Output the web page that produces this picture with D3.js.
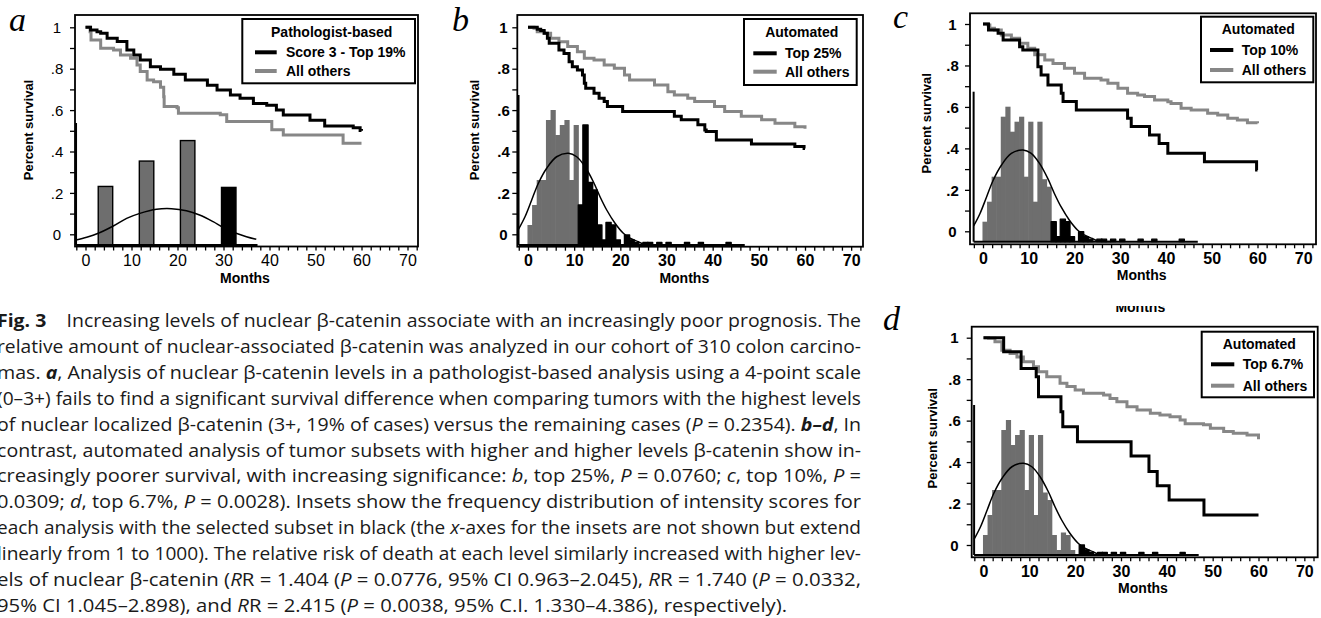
<!DOCTYPE html>
<html>
<head>
<meta charset="utf-8">
<script src="https://cdnjs.cloudflare.com/ajax/libs/d3/7.8.5/d3.min.js"></script>
<title>Fig. 3 nuclear beta-catenin survival</title>
<style>
  body { margin: 0; background: #fff; }
  svg { display: block; font-family: "Liberation Sans", Arial, sans-serif; }
  .cap { font-family: "Open Sans", sans-serif; font-size: 18px; fill: #1a1a1a; white-space: pre; }
</style>
</head>
<body>
<script>
// ---- survival curves [month, fraction surviving] ----
const aTop19 = [[0,1],[1.1,0.987],[2.5,0.979],[3.3,0.971],[4.7,0.947],[6.9,0.931],[9.0,0.890],[10.5,0.866],[11.9,0.842],[14.1,0.810],[16.3,0.797],[19.2,0.773],[21.7,0.745],[26.5,0.72],[28.6,0.697],[31.5,0.673],[33.6,0.657],[36.5,0.632],[39.4,0.624],[41.5,0.60],[43.0,0.576],[48.8,0.551],[52.0,0.523],[58.2,0.515],[59.7,0.502],[60,0.50]];
const aOthers = [[0,1],[1.0,0.979],[1.2,0.939],[3.3,0.899],[6.1,0.89],[7.6,0.866],[9.8,0.850],[11.2,0.818],[11.9,0.786],[13.4,0.745],[14.8,0.737],[16.3,0.710],[17.0,0.665],[17.1,0.617],[19.9,0.611],[20.2,0.585],[29.3,0.577],[30.7,0.545],[40.5,0.505],[43.0,0.480],[56.0,0.440],[60,0.44]];

const bTop25 = [[0,1],[2.0,0.990],[2.75,0.984],[3.5,0.971],[4.2,0.947],[4.6,0.923],[6.7,0.890],[7.8,0.874],[8.9,0.834],[9.6,0.810],[10.7,0.794],[11.8,0.770],[12.2,0.730],[12.5,0.705],[14.3,0.681],[15.4,0.657],[16.5,0.641],[17.2,0.617],[20.5,0.593],[31.7,0.570],[33.2,0.553],[36.8,0.529],[38.3,0.504],[38.6,0.497],[40.8,0.456],[48.4,0.436],[57.8,0.424],[59.8,0.415],[60,0.415]];
const bOthers = [[0,1],[1.3,0.995],[2.0,0.979],[3.5,0.971],[4.9,0.947],[6.7,0.930],[8.6,0.907],[10.7,0.882],[12.2,0.850],[14.3,0.842],[16.5,0.818],[18.7,0.802],[20.9,0.770],[22.0,0.745],[27.4,0.721],[30.3,0.689],[31.7,0.673],[34.6,0.657],[36.1,0.641],[40.4,0.617],[42.6,0.593],[46.2,0.570],[50.6,0.553],[53.5,0.536],[57.8,0.520],[60,0.510]];

const cTop10 = [[0,1],[1.2,0.971],[3.3,0.955],[4.4,0.923],[8.0,0.890],[8.7,0.874],[12.0,0.794],[12.7,0.754],[14.2,0.706],[17.1,0.666],[17.5,0.626],[20.4,0.585],[31.6,0.545],[32.4,0.505],[36.4,0.465],[38.5,0.424],[40.4,0.376],[48.4,0.336],[59.8,0.296],[60,0.296]];
const cOthers = [[0,1],[1.1,0.995],[1.5,0.979],[2.5,0.971],[4.0,0.947],[6.2,0.931],[8.0,0.907],[9.8,0.883],[11.3,0.852],[13.5,0.826],[15.3,0.810],[17.8,0.786],[20.0,0.762],[22.2,0.738],[25.8,0.730],[27.3,0.714],[29.5,0.690],[31.6,0.666],[33.8,0.658],[35.3,0.650],[37.5,0.633],[40.4,0.625],[41.1,0.617],[43.3,0.593],[45.5,0.585],[49.1,0.569],[51.3,0.561],[53.5,0.545],[55.6,0.537],[57.8,0.524],[60,0.521]];

const dTop67 = [[0,1],[4.4,0.932],[8.2,0.852],[11.5,0.812],[12.0,0.715],[16.9,0.643],[17.3,0.571],[20.5,0.498],[32.2,0.429],[36.1,0.354],[37.9,0.286],[40.5,0.217],[48.1,0.145],[60,0.145]];
const dOthers = [[0,1],[1.1,0.997],[2.5,0.981],[4.0,0.940],[5.8,0.924],[7.3,0.907],[8.7,0.884],[10.9,0.860],[12.0,0.836],[13.8,0.812],[16.7,0.780],[18.2,0.764],[20.0,0.748],[21.8,0.732],[26.2,0.723],[27.6,0.707],[29.1,0.691],[31.3,0.667],[33.5,0.651],[36.4,0.635],[38.5,0.627],[40.7,0.619],[42.9,0.603],[44.0,0.585],[48.0,0.580],[49.5,0.563],[52.4,0.547],[54.5,0.539],[57.5,0.531],[60,0.510]];

// ---- inset a: pathologist score histogram ----
const pathScores = [0, 1, 2, 3];
const pathCounts = [60, 86, 107, 59];
const pathFit = [[-0.716,5.1],[-0.456,7.9],[-0.175,12],[0.19,19.5],[0.515,27.3],[0.837,32.4],[1.243,36.6],[1.607,37.2],[1.97,35.1],[2.29,30.7],[2.62,23.9],[2.86,18.1],[3.18,12],[3.43,8.5],[3.67,5.8]];

// ---- insets b-d: automated score histogram (score 1..1000, bins of 20) ----
const autoBinLow = [40,60,80,100,120,140,160,180,200,220,240,260,280,300,320,340,360,380,400,420,440,460,480,500,520,540,560,580,600,620,640,660,680,700,720,740,760,780,800,820,840,860,880,900];
const autoFreq = [8,16,26,26,50,54,44,48,50,26,48,16,48,25,22,8,2,9,8,2,0,4,2,1,0,1,1,0,1,0,1,0,0,0,1,0,0,1,0,0,0,0,0,1];
const autoFit = [[0,6.3],[28,11.3],[57,18],[86,24.7],[122,30.7],[165,35.3],[216,36.7],[252,35.3],[288,31.3],[324,25.3],[353,19.3],[382,14],[418,8.7],[454,4.7],[483,2.7],[519,1.3],[541,0.4],[600,0.1]];

// ---- ticks ----
const yTickVals = [0,0.1,0.2,0.3,0.4,0.5,0.6,0.7,0.8,0.9,1];
const yTickLabels = ["0","",".2","",".4","",".6","",".8","","1"];
const xTickVals = d3.range(-2, 73, 2);
const xTickLabels = [0,10,20,30,40,50,60,70];

const svg = d3.select("body").append("svg")
    .attr("width", 1321)
    .attr("height", 618);

const panels = [
  { letter: "a", lx: 9, ly: 31, left: 75, top: 15, right: 418, bottom: 246.5,
    x0: 85.5, x60: 361.5, y0: 234.3, y1: 27.3, yLabX: 57, bold: false,
    monthsX: 245, monthsY: 278, percX: 28.3, percY: 130,
    series: [aOthers, aTop19],
    legend: { x: 242.3, y: 19, w: 172.7, h: 64.3, tx: 331.7, ty: 31.7, s1: 255, s2: 276.7, r1: 52.3, r2: 71, textX: 286,
              title: "Pathologist-based", lab: "Score 3 - Top 19%" },
    inset: { kind: "path", top: 123, bottom: 245 } },
  { letter: "b", lx: 452, ly: 31, left: 517.3, top: 15, right: 863, bottom: 246.7,
    x0: 528, x60: 805, y0: 234.3, y1: 27.3, yLabX: 503.5, bold: true,
    monthsX: 684.3, monthsY: 278, percX: 474, percY: 130,
    series: [bOthers, bTop25],
    legend: { x: 744, y: 19, w: 112.7, h: 66, tx: 801.7, ty: 32.3, s1: 753.3, s2: 776.7, r1: 53.3, r2: 71.7, textX: 785,
              title: "Automated", lab: "Top 25%" },
    inset: { kind: "auto", top: 95, bottom: 245, cut: 260 } },
  { letter: "c", lx: 893, ly: 28, left: 970, top: 13.3, right: 1316, bottom: 244.3,
    x0: 983, x60: 1257.5, y0: 231.3, y1: 24, yLabX: 952.5, bold: true,
    monthsX: 1141.7, monthsY: 275, percX: 926.7, percY: 123.3,
    series: [cOthers, cTop10],
    legend: { x: 1201, y: 16.7, w: 112.3, h: 65.6, tx: 1258.3, ty: 29.3, s1: 1210, s2: 1233.3, r1: 50, r2: 70, textX: 1241.7,
              title: "Automated", lab: "Top 10%" },
    inset: { kind: "auto", top: 91.7, bottom: 241.7, cut: 340 } },
  { letter: "d", lx: 883, ly: 330, left: 971.7, top: 326.7, right: 1317.7, bottom: 557.3,
    x0: 983.5, x60: 1258.5, y0: 545, y1: 337.7, yLabX: 954.5, bold: true,
    monthsX: 1143, monthsY: 588.3, percX: 932.7, percY: 438.3,
    series: [dOthers, dTop67],
    legend: { x: 1201.7, y: 331.7, w: 112.3, h: 65.6, tx: 1259.3, ty: 344, s1: 1211, s2: 1234.3, r1: 364.3, r2: 385.7, textX: 1242.7,
              title: "Automated", lab: "Top 6.7%" },
    inset: { kind: "auto", top: 405, bottom: 555, cut: 460 } }
];

const grayLine = "#878787", grayBar = "#6e6e6e";

function drawPanel(p) {
  const g = svg.append("g");
  const x = d3.scaleLinear().domain([0, 60]).range([p.x0, p.x60]);
  const y = d3.scaleLinear().domain([0, 1]).range([p.y0, p.y1]);

  // inset histogram
  const ins = p.inset;
  if (ins.kind === "path") {
    const ix = d3.scaleLinear().domain([0, 3]).range([x(4.34), x(31.14)]);
    const iy = d3.scaleLinear().domain([0, 125]).range([ins.bottom, ins.top]);
    const hw = (ix(1) - ix(0)) * 0.176;
    g.selectAll(".pbar").data(pathScores).enter().append("rect")
      .attr("x", d => ix(d) - hw).attr("width", 2 * hw)
      .attr("y", (d, i) => iy(pathCounts[i])).attr("height", (d, i) => iy(0) - iy(pathCounts[i]))
      .attr("fill", d => d === 3 ? "#000" : grayBar)
      .attr("stroke", "#000").attr("stroke-width", 1.4);
    g.append("path").datum(pathFit)
      .attr("d", d3.line().x(d => ix(d[0])).y(d => iy(d[1])).curve(d3.curveCatmullRom))
      .attr("fill", "none").attr("stroke", "#000").attr("stroke-width", 1.5);
    g.append("line").attr("x1", ix(-0.716)).attr("x2", ix(-0.716)).attr("y1", ins.top).attr("y2", ins.bottom)
      .attr("stroke", "#000").attr("stroke-width", 2);
    g.append("line").attr("x1", ix(-0.716)).attr("x2", ix(3.7)).attr("y1", ins.bottom).attr("y2", ins.bottom)
      .attr("stroke", "#000").attr("stroke-width", 2);
  } else {
    const ix = d3.scaleLinear().domain([0, 1000]).range([x(-2.05), x(47.95)]);
    const iy = d3.scaleLinear().domain([0, 60]).range([ins.bottom, ins.top]);
    const bins = autoBinLow.map((lo, i) => ({ lo: lo, f: autoFreq[i] })).filter(d => d.f > 0);
    g.selectAll(".abar").data(bins).enter().append("rect")
      .attr("x", d => ix(d.lo) - 0.3).attr("width", d => ix(d.lo + 20) - ix(d.lo) + 0.6)
      .attr("y", d => iy(d.f)).attr("height", d => iy(0) - iy(d.f))
      .attr("fill", d => d.lo >= ins.cut ? "#000" : grayBar)
      .attr("stroke", d => d.lo >= ins.cut ? "#000" : "none")
      .attr("stroke-width", 1.3).attr("stroke-linejoin", "round");
    g.append("path").datum(autoFit)
      .attr("d", d3.line().x(d => ix(d[0])).y(d => iy(d[1])).curve(d3.curveCatmullRom))
      .attr("fill", "none").attr("stroke", "#000").attr("stroke-width", 1.5);
    g.append("line").attr("x1", ix(0)).attr("x2", ix(0)).attr("y1", ins.top).attr("y2", ins.bottom)
      .attr("stroke", "#000").attr("stroke-width", 2);
    g.append("line").attr("x1", ix(0)).attr("x2", ix(980)).attr("y1", ins.bottom).attr("y2", ins.bottom)
      .attr("stroke", "#000").attr("stroke-width", 2);
  }

  // survival curves
  const line = d3.line().x(d => x(d[0])).y(d => y(d[1])).curve(d3.curveStepAfter);
  g.append("path").datum(p.series[0]).attr("d", line)
    .attr("fill", "none").attr("stroke", grayLine).attr("stroke-width", 3);
  g.append("path").datum(p.series[1]).attr("d", line)
    .attr("fill", "none").attr("stroke", "#000").attr("stroke-width", 3);

  // frame
  g.append("rect").attr("x", p.left).attr("y", p.top)
    .attr("width", p.right - p.left).attr("height", p.bottom - p.top)
    .attr("fill", "none").attr("stroke", "#000").attr("stroke-width", 1.8);

  // axes
  const weight = p.bold ? "bold" : "normal";
  const ya = g.append("g").attr("transform", "translate(" + p.left + ",0)")
    .call(d3.axisLeft(y).tickValues(yTickVals).tickSize(5).tickFormat((d, i) => yTickLabels[i]));
  ya.select(".domain").remove();
  ya.selectAll("line").attr("stroke-width", 1.3);
  ya.selectAll("text").attr("x", p.yLabX - p.left).attr("dy", "0.35em")
    .attr("text-anchor", "middle").attr("font-size", 15).attr("font-weight", weight)
    .attr("font-family", "'Liberation Sans', Arial, sans-serif").attr("fill", "#000");

  const xa = g.append("g").attr("transform", "translate(0," + p.bottom + ")")
    .call(d3.axisBottom(x).tickValues(xTickVals).tickSize(4).tickPadding(4)
      .tickFormat(d => xTickLabels.includes(d) ? d : ""));
  xa.select(".domain").remove();
  xa.selectAll("line").attr("stroke-width", 1.3);
  xa.selectAll("text").attr("font-size", 16).attr("font-weight", weight)
    .attr("font-family", "'Liberation Sans', Arial, sans-serif").attr("fill", "#000");

  g.append("text").attr("x", p.monthsX).attr("y", p.monthsY)
    .attr("text-anchor", "middle").attr("dominant-baseline", "central")
    .attr("font-size", 14).attr("font-weight", "bold").text("Months");

  g.append("text").attr("transform", "translate(" + p.percX + "," + p.percY + ") rotate(-90)")
    .attr("text-anchor", "middle").attr("dominant-baseline", "central")
    .attr("font-size", 13).attr("font-weight", "bold").text("Percent survival");

  g.append("text").attr("x", p.lx).attr("y", p.ly)
    .attr("font-family", "'Liberation Serif', 'Times New Roman', serif")
    .attr("font-style", "italic").attr("font-size", 34).text(p.letter);

  // legend
  const L = p.legend;
  g.append("rect").attr("x", L.x).attr("y", L.y).attr("width", L.w).attr("height", L.h)
    .attr("fill", "#fff").attr("stroke", "#000").attr("stroke-width", 2);
  g.append("text").attr("x", L.tx).attr("y", L.ty).attr("text-anchor", "middle")
    .attr("dominant-baseline", "central").attr("font-size", 14).attr("font-weight", "bold").text(L.title);
  [[L.r1, "#000", L.lab], [L.r2, grayLine, "All others"]].forEach(r => {
    g.append("line").attr("x1", L.s1).attr("x2", L.s2).attr("y1", r[0]).attr("y2", r[0])
      .attr("stroke", r[1]).attr("stroke-width", 4);
    g.append("text").attr("x", L.textX).attr("y", r[0]).attr("dominant-baseline", "central")
      .attr("font-size", 14).attr("font-weight", "bold").text(r[2]);
  });
}

panels.forEach(drawPanel);

// clipped stray "Months" between panels c and d (only its lower part shows)
svg.append("clipPath").attr("id", "strayClip").append("rect")
  .attr("x", 1090).attr("y", 306).attr("width", 100).attr("height", 15);
svg.append("text").attr("clip-path", "url(#strayClip)")
  .attr("x", 1140.3).attr("y", 312).attr("text-anchor", "middle")
  .attr("font-size", 14).attr("font-weight", "bold").text("Months");

// ---- caption ----
const captionLines = [
  [["Fig. 3", "b"], ["    Increasing levels of nuclear \u03b2-catenin associate with an increasingly poor prognosis. The", ""]],
  [["relative amount of nuclear-associated \u03b2-catenin was analyzed in our cohort of 310 colon carcino-", ""]],
  [["mas. ", ""], ["a", "bi"], [", Analysis of nuclear \u03b2-catenin levels in a pathologist-based analysis using a 4-point scale", ""]],
  [["(0\u20133+) fails to find a significant survival difference when comparing tumors with the highest levels", ""]],
  [["of nuclear localized \u03b2-catenin (3+, 19% of cases) versus the remaining cases (", ""], ["P", "i"], [" = 0.2354). ", ""], ["b\u2013d", "bi"], [", In", ""]],
  [["contrast, automated analysis of tumor subsets with higher and higher levels \u03b2-catenin show in-", ""]],
  [["creasingly poorer survival, with increasing significance: ", ""], ["b", "i"], [", top 25%, ", ""], ["P", "i"], [" = 0.0760; ", ""], ["c", "i"], [", top 10%, ", ""], ["P", "i"], [" =", ""]],
  [["0.0309; ", ""], ["d", "i"], [", top 6.7%, ", ""], ["P", "i"], [" = 0.0028). Insets show the frequency distribution of intensity scores for", ""]],
  [["each analysis with the selected subset in black (the ", ""], ["x", "i"], ["-axes for the insets are not shown but extend", ""]],
  [["linearly from 1 to 1000). The relative risk of death at each level similarly increased with higher lev-", ""]],
  [["els of nuclear \u03b2-catenin (", ""], ["R", "i"], ["R = 1.404 (", ""], ["P", "i"], [" = 0.0776, 95% CI 0.963\u20132.045), ", ""], ["R", "i"], ["R = 1.740 (", ""], ["P", "i"], [" = 0.0332,", ""]],
  [["95% CI 1.045\u20132.898), and ", ""], ["R", "i"], ["R = 2.415 (", ""], ["P", "i"], [" = 0.0038, 95% C.I. 1.330\u20134.386), respectively).", ""]]
];

svg.append("clipPath").attr("id", "capClip").append("rect")
  .attr("x", 0).attr("y", 300).attr("width", 861).attr("height", 318);
const cap = svg.append("g").attr("clip-path", "url(#capClip)");
captionLines.forEach((segs, i) => {
  const t = cap.append("text").attr("class", "cap")
    .attr("x", -3).attr("y", 327 + i * 25.9)
    .attr("textLength", i === captionLines.length - 1 ? 790 : 864)
    .attr("lengthAdjust", "spacingAndGlyphs");
  segs.forEach(s => {
    t.append("tspan").text(s[0])
      .attr("font-weight", s[1].includes("b") ? "bold" : null)
      .attr("font-style", s[1].includes("i") ? "italic" : null);
  });
});
</script>
</body>
</html>
